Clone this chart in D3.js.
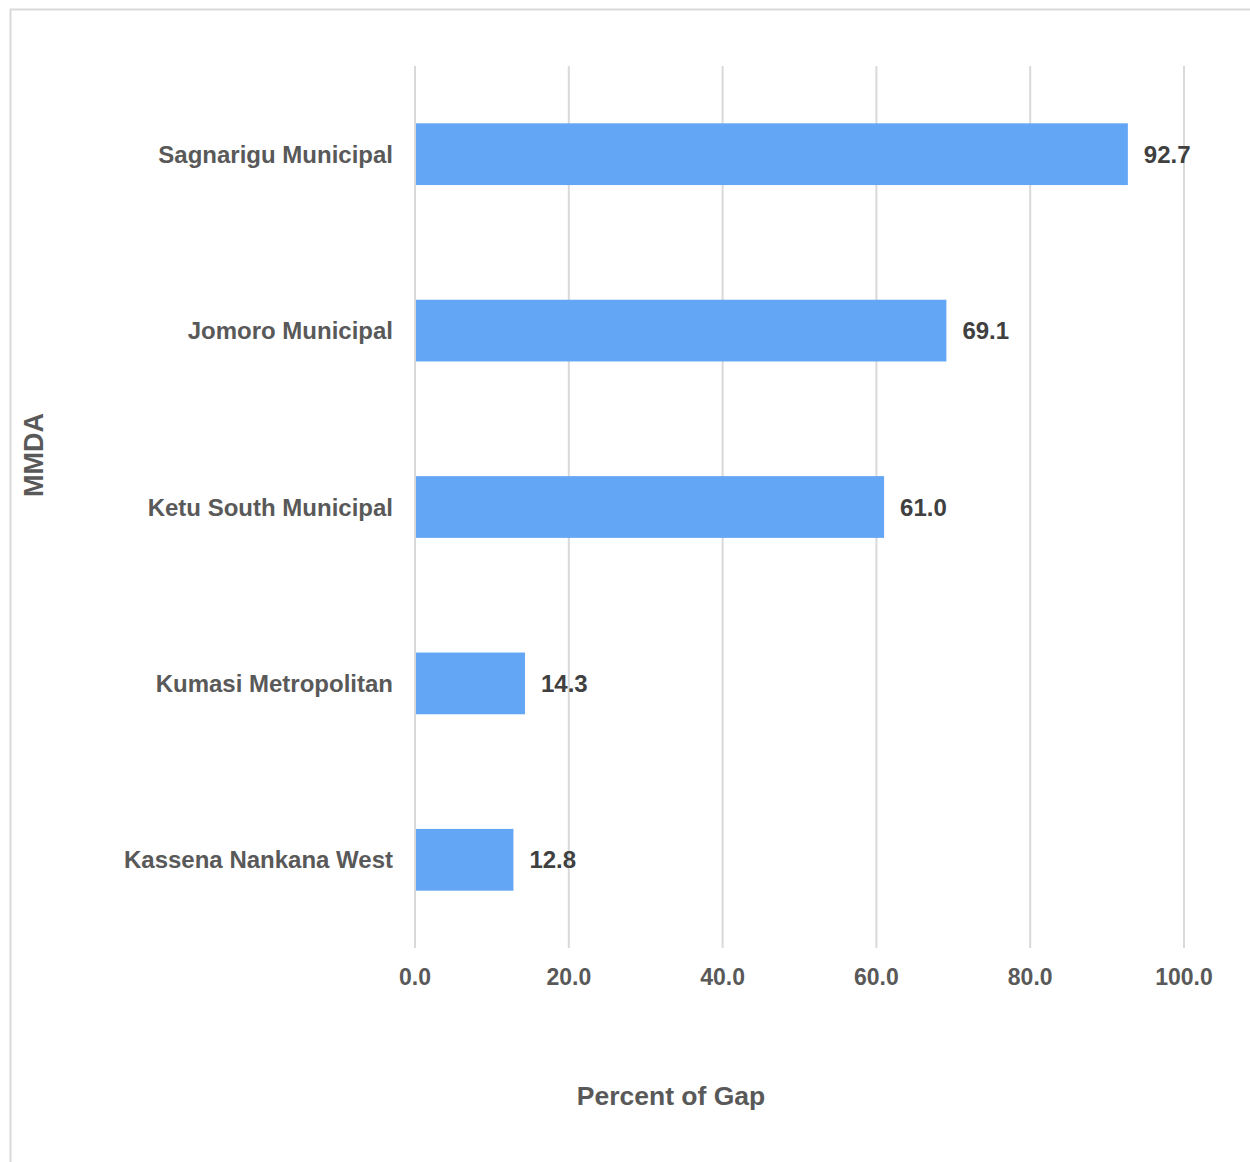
<!DOCTYPE html>
<html>
<head>
<meta charset="utf-8">
<script src="https://cdn.jsdelivr.net/npm/d3@7"></script>
<style>
  body { margin: 0; background: #fff; }
  text { font-family: "Liberation Sans", Arial, sans-serif; font-weight: bold; }
</style>
</head>
<body>
<svg id="chart" width="1250" height="1162"></svg>
<script>
// data
const districts = ["Sagnarigu Municipal", "Jomoro Municipal", "Ketu South Municipal", "Kumasi Metropolitan", "Kassena Nankana West"];
const gapPercent = [92.7, 69.1, 61.0, 14.3, 12.8];
const xTicks = [0, 20, 40, 60, 80, 100];

const svg = d3.select("#chart");

// chart frame
svg.append("rect")
  .attr("x", 10.5).attr("y", 9.5)
  .attr("width", 1260).attr("height", 1170)
  .attr("fill", "#fff")
  .attr("stroke", "#d9d9d9")
  .attr("stroke-width", 2);

const margin = { top: 66, left: 415, right: 1184, bottom: 948 };

const x = d3.scaleLinear().domain([0, 100]).range([margin.left, margin.right]);
const y = d3.scaleBand()
  .domain(districts)
  .range([margin.top, margin.bottom])
  .paddingInner(0.65)
  .paddingOuter(0.325);

// gridlines
svg.append("g")
  .selectAll("line")
  .data(xTicks)
  .join("line")
  .attr("x1", d => x(d)).attr("x2", d => x(d))
  .attr("y1", margin.top).attr("y2", margin.bottom)
  .attr("stroke", "#d9d9d9")
  .attr("stroke-width", 2);

// x tick labels
svg.append("g")
  .selectAll("text")
  .data(xTicks)
  .join("text")
  .attr("x", d => x(d))
  .attr("y", 985)
  .attr("text-anchor", "middle")
  .attr("fill", "#595959")
  .style("font-size", "23px")
  .text(d => d.toFixed(1));

const rows = districts.map((d, i) => ({ name: d, value: gapPercent[i] }));

// bars
svg.append("g")
  .selectAll("rect")
  .data(rows)
  .join("rect")
  .attr("x", x(0) + 1)
  .attr("y", d => y(d.name))
  .attr("width", d => x(d.value) - x(0) - 1)
  .attr("height", y.bandwidth())
  .attr("fill", "#63a6f5");

// category labels
svg.append("g")
  .selectAll("text")
  .data(rows)
  .join("text")
  .attr("x", 393)
  .attr("y", d => y(d.name) + y.bandwidth() / 2)
  .attr("dy", "0.36em")
  .attr("text-anchor", "end")
  .attr("fill", "#595959")
  .style("font-size", "24px")
  .text(d => d.name);

// value labels
svg.append("g")
  .selectAll("text")
  .data(rows)
  .join("text")
  .attr("x", d => x(d.value) + 16)
  .attr("y", d => y(d.name) + y.bandwidth() / 2)
  .attr("dy", "0.36em")
  .attr("fill", "#404040")
  .style("font-size", "24px")
  .text(d => d.value.toFixed(1));

// axis titles
svg.append("text")
  .attr("x", 671).attr("y", 1105)
  .attr("text-anchor", "middle")
  .attr("fill", "#595959")
  .style("font-size", "26.5px")
  .text("Percent of Gap");

svg.append("text")
  .attr("transform", "translate(43,455) rotate(-90)")
  .attr("text-anchor", "middle")
  .attr("fill", "#595959")
  .style("font-size", "27px")
  .text("MMDA");
</script>
</body>
</html>
